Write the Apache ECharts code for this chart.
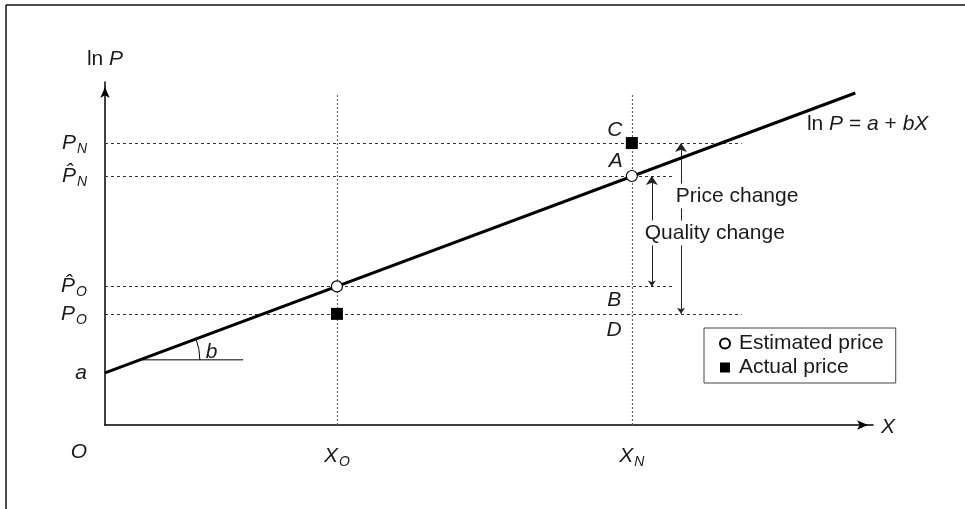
<!DOCTYPE html>
<html>
<head>
<meta charset="utf-8">
<script src="https://cdn.jsdelivr.net/npm/echarts@6/dist/echarts.min.js"></script>
<style>html,body{margin:0;padding:0;background:#fff}#c{width:965px;height:509px}</style>
</head>
<body>
<div id="c"></div>
<script>
// ---- data ----
const regressionLine = [[0, 15.2], [97.7, 96.8]];
const estimatedPrice = [[30.2, 40.4], [68.6, 72.6]];
const actualPrice = [[30.2, 32.4], [68.6, 82.2]];
const yTickValues = [82.2, 72.6, 40.4, 32.4, 15.2];
const yTickLabels = ['{i|P}{s|N}', '{i|P\u0302}{s|N}', '{i|P\u0302}{s|O}', '{i|P}{s|O}', '{i|a}'];
const xTickValues = [30.2, 68.6];
const xTickLabels = ['{i|X}{s|O}', '{i|X}{s|N}'];
const hGuideEnds = [82.9, 74.2, 74.2, 82.9];   // x end for each y tick guide (PN, P^N, P^O, PO)
const vGuideTop = 96.2;
const pointNames = ['C', 'A', 'B', 'D'];
const pointCoords = [[66.4, 86.0], [66.5, 77.0], [66.3, 36.4], [66.3, 27.7]];
const priceChange = [[75.0, 32.4], [75.0, 82.2]];
const qualityChange = [[71.2, 40.4], [71.2, 72.6]];
const angleBase = [[4.55, 19.0], [18.0, 19.0]];
const angleRadius = 7.8;

const FONT = 'Liberation Sans, Arial, sans-serif';
const TXT = '#1a1a1a';
const FS = 21;
const rich = {
  i: { fontStyle: 'italic', fontSize: FS, fontFamily: FONT, color: TXT },
  r: { fontSize: FS, fontFamily: FONT, color: TXT },
  s: { fontStyle: 'italic', fontSize: 14, fontFamily: FONT, color: TXT, padding: [12, 0, 0, 1] }
};

const guideLines = [];
yTickValues.slice(0, 4).forEach((v, k) => {
  guideLines.push({ coords: [[0, v], [hGuideEnds[k], v]] });
});
const vGuides = xTickValues.map(v => ({ coords: [[v, 0], [v, vGuideTop]] }));

const labelSeries = (extra) => Object.assign({
  type: 'scatter', silent: true, z: 6, symbolSize: 0, clip: false,
  itemStyle: { opacity: 1 }
}, extra);

const chart = echarts.init(document.getElementById('c'), null, { renderer: 'canvas' });
chart.setOption({
  animation: false,
  backgroundColor: '#fff',
  graphic: [
    { type: 'line', shape: { x1: 6, y1: 5, x2: 965, y2: 5 }, style: { stroke: '#111', lineWidth: 1.5 } },
    { type: 'line', shape: { x1: 6, y1: 5, x2: 6, y2: 509 }, style: { stroke: '#111', lineWidth: 1.5 } }
  ],
  grid: { left: 105, top: 82, width: 768, height: 343 },
  xAxis: {
    type: 'value', min: 0, max: 100,
    name: '{i|X}', nameLocation: 'end', nameGap: 8,
    nameTextStyle: { rich: rich, verticalAlign: 'middle', padding: [4, 0, 0, 0] },
    axisLine: { show: true, symbol: ['none', 'arrow'], symbolSize: [7, 11], symbolOffset: [0, -5], lineStyle: { color: '#000', width: 1.5 } },
    axisTick: { show: false }, axisLabel: { show: false }, splitLine: { show: false }
  },
  yAxis: {
    type: 'value', min: 0, max: 100,
    name: '{r|ln }{i|P}', nameLocation: 'end', nameGap: 12,
    nameTextStyle: { rich: rich, align: 'center' },
    axisLine: { show: true, symbol: ['none', 'arrow'], symbolSize: [7, 11], symbolOffset: [0, -5], lineStyle: { color: '#000', width: 1.5 } },
    axisTick: { show: false }, axisLabel: { show: false }, splitLine: { show: false }
  },
  legend: {
    left: 704, top: 328, orient: 'vertical',
    padding: [5, 12, 5, 15], itemGap: 3, itemWidth: 10, itemHeight: 10,
    borderColor: '#444', borderWidth: 1, backgroundColor: '#fff',
    textStyle: { fontSize: FS, fontFamily: FONT, color: TXT, padding: [0, 0, 0, 4] },
    data: [
      { name: 'Estimated price', icon: 'circle' },
      { name: 'Actual price', icon: 'rect' }
    ]
  },
  series: [
    {
      type: 'lines', coordinateSystem: 'cartesian2d', silent: true, z: 1,
      lineStyle: { color: '#333', width: 1, type: [3, 3], opacity: 1 },
      data: guideLines
    },
    {
      type: 'lines', coordinateSystem: 'cartesian2d', silent: true, z: 1,
      lineStyle: { color: '#666', width: 1.2, type: [2, 2], opacity: 1 },
      data: vGuides
    },
    {
      type: 'lines', coordinateSystem: 'cartesian2d', silent: true, z: 2,
      symbol: ['arrow', 'arrow'], symbolSize: [6, 9],
      lineStyle: { color: '#222', width: 1, opacity: 1 },
      data: [{ coords: priceChange }, { coords: qualityChange }]
    },
    {
      type: 'line', silent: true, z: 3, showSymbol: false, symbol: 'none',
      lineStyle: { color: '#000', width: 3 },
      data: regressionLine
    },
    {
      type: 'line', silent: true, z: 3, showSymbol: false, symbol: 'none',
      lineStyle: { color: '#000', width: 1 },
      data: angleBase
    },
    {
      type: 'custom', silent: true, z: 3,
      data: [angleBase[0]],
      renderItem: function (params, api) {
        const c = api.coord([api.value(0), api.value(1)]);
        const e = api.coord([api.value(0) + angleRadius, api.value(1)]);
        const p1 = api.coord(regressionLine[0]);
        const p2 = api.coord(regressionLine[1]);
        const ang = Math.atan2(p1[1] - p2[1], p2[0] - p1[0]);
        const r = e[0] - c[0];
        return {
          type: 'group',
          children: [
            { type: 'arc', shape: { cx: c[0], cy: c[1], r: r, startAngle: -ang, endAngle: 0 }, style: { fill: 'none', stroke: '#000', lineWidth: 1 } },
            { type: 'text', style: { text: 'b', x: c[0] + r + 6, y: c[1] - 8, font: 'italic ' + FS + 'px ' + FONT, fill: TXT, verticalAlign: 'middle' } }
          ]
        };
      }
    },
    {
      name: 'Estimated price', type: 'scatter', z: 5, symbol: 'circle', symbolSize: 11,
      itemStyle: { color: '#fff', borderColor: '#000', borderWidth: 1.2, opacity: 1 },
      data: estimatedPrice
    },
    {
      name: 'Actual price', type: 'scatter', z: 5, symbol: 'rect', symbolSize: 12,
      itemStyle: { color: '#000', opacity: 1 },
      data: actualPrice
    },
    labelSeries({
      label: { show: true, position: 'left', distance: 18, formatter: p => p.data.t, rich: rich, color: TXT },
      data: yTickValues.map((v, k) => ({ value: [0, v], t: yTickLabels[k] }))
    }),
    labelSeries({
      label: { show: true, position: 'bottom', distance: 18, formatter: p => p.data.t, rich: rich, color: TXT },
      data: xTickValues.map((v, k) => ({ value: [v, 0], t: xTickLabels[k] }))
        .concat([{ value: [0, 0], t: '{i|O}', label: { position: 'inside', offset: [-26, 27] } }])
    }),
    labelSeries({
      label: { show: true, position: 'inside', formatter: p => '{i|' + p.data.t + '}', rich: rich, color: TXT },
      data: pointCoords.map((c, k) => ({ value: c, t: pointNames[k] }))
    }),
    labelSeries({
      z: 7,
      label: { show: true, position: 'inside', formatter: p => p.data.t, rich: rich, color: TXT, backgroundColor: '#fff', padding: [2, 1] },
      data: [
        { value: [82.3, 66.8], t: '{r|Price change}' },
        { value: [79.4, 56.0], t: '{r|Quality change}' },
        { value: [99.3, 87.8], t: '{r|ln }{i|P}{r| = }{i|a}{r| + }{i|bX}', label: { backgroundColor: 'transparent' } }
      ]
    })
  ]
});
</script>
</body>
</html>
